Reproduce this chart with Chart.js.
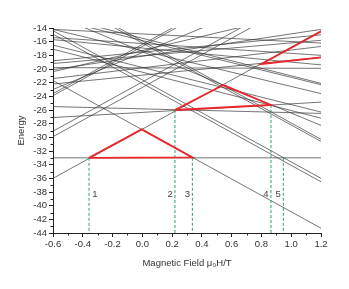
<!DOCTYPE html>
<html>
<head>
<meta charset="utf-8">
<script src="https://cdn.jsdelivr.net/npm/chart.js@4/dist/chart.umd.min.js"></script>
<style>
  html, body { margin: 0; padding: 0; background: #fff; }
</style>
</head>
<body>
<canvas id="myChart" width="349" height="289"></canvas>
<script>
// field range of the plot (T)
const fieldRange = [-0.6, 1.2];

// energy of each level at the left edge and at the right edge
const levelStart = [-36.0, -21.7, -14.4, -29.1, -14.9, -29.9, -8.7, -9.0, -23.6, -23.9,
                    -12.05, -23.0, -25.5, -27.1, -22.2, -19.8, -33.0, -12.2, -12.6, -14.2,
                    -20.4, -16.5, -17.1, -18.8, -19.2, -21.4, -20.1, -14.2, -15.4, -15.7];
const levelEnd   = [-14.4, -43.3, -36.0, -7.5, -36.5, -8.3, -30.3, -30.6, -2.0, -2.3,
                    -28.25, -6.8, -26.5, -24.85, -18.3, -19.9, -33.0, -22.1, -22.3, -23.6,
                    -11.1, -26.3, -27.2, -15.0, -15.8, -16.7, -14.2, -16.2, -18.0, -19.4];

// red transition paths
const red1X = [-0.358, -0.004, 0.336, -0.358];
const red1Y = [-33.0, -28.83, -32.94, -33.0];
const red2X = [0.219, 0.544, 0.864, 0.219];
const red2Y = [-26.0, -22.35, -25.27, -26.0];
const red3X = [1.2, 0.8, 1.2];
const red3Y = [-14.5, -19.27, -18.3];

// green dashed markers
const markX   = [-0.358, 0.219, 0.336, 0.864, 0.947];
const markTop = [-33.0, -26.0, -33.0, -25.27, -33.0];
const markNames = ['1', '2', '3', '4', '5'];
const markLabelX = [-0.318, 0.186, 0.302, 0.83, 0.912];
const markLabelY = -38.3;

// ticks
const xTicks = [-0.6, -0.4, -0.2, 0.0, 0.2, 0.4, 0.6, 0.8, 1.0, 1.2];
const xMinor = [-0.5, -0.3, -0.1, 0.1, 0.3, 0.5, 0.7, 0.9, 1.1];
const yTicks = [-44, -42, -40, -38, -36, -34, -32, -30, -28, -26, -24, -22, -20, -18, -16, -14];
const yMinor = [-43, -41, -39, -37, -35, -33, -31, -29, -27, -25, -23, -21, -19, -17, -15];

const pts = (xs, ys) => xs.map((v, i) => ({ x: v, y: ys[i] }));

const datasets = [];
[[red1X, red1Y], [red2X, red2Y], [red3X, red3Y]].forEach(p => {
  datasets.push({
    data: pts(p[0], p[1]),
    borderColor: '#e8262b', borderWidth: 1.8, pointRadius: 0, order: 0
  });
});
markX.forEach((v, i) => {
  datasets.push({
    data: [{ x: v, y: markTop[i] }, { x: v, y: -44 }],
    borderColor: '#2ca25f', borderWidth: 1, borderDash: [3, 2], pointRadius: 0, order: 1
  });
});
levelStart.forEach((e, i) => {
  datasets.push({
    data: [{ x: fieldRange[0], y: e }, { x: fieldRange[1], y: levelEnd[i] }],
    borderColor: 'rgba(50,50,50,0.85)', borderWidth: 0.8, pointRadius: 0, order: 2
  });
});

const extras = {
  id: 'extras',
  afterDraw(chart) {
    const { ctx, scales: { x, y }, chartArea } = chart;
    ctx.save();
    ctx.strokeStyle = '#222';
    ctx.lineWidth = 1;
    ctx.beginPath();
    xMinor.forEach(v => {
      const px = Math.round(x.getPixelForValue(v)) + 0.5;
      ctx.moveTo(px, chartArea.bottom);
      ctx.lineTo(px, chartArea.bottom + 2.5);
    });
    yMinor.forEach(v => {
      const py = Math.round(y.getPixelForValue(v)) + 0.5;
      ctx.moveTo(chartArea.left, py);
      ctx.lineTo(chartArea.left - 2.5, py);
    });
    ctx.stroke();
    ctx.fillStyle = '#444';
    ctx.font = '9.5px "Liberation Sans", Arial, sans-serif';
    ctx.textAlign = 'center';
    ctx.textBaseline = 'middle';
    markNames.forEach((t, i) => {
      ctx.fillText(t, x.getPixelForValue(markLabelX[i]), y.getPixelForValue(markLabelY));
    });
    ctx.restore();
  }
};

const tickFont = { family: '"Liberation Sans", Arial, sans-serif', size: 9.5 };

const config = {
  type: 'line',
  data: { datasets: datasets },
  options: {
    responsive: false,
    animation: false,
    layout: { padding: { top: 28, right: 28, left: 16, bottom: 20 } },
    plugins: { legend: { display: false }, tooltip: { enabled: false } },
    scales: {
      x: {
        type: 'linear',
        min: -0.6, max: 1.2,
        afterBuildTicks: s => { s.ticks = xTicks.map(v => ({ value: v })); },
        afterFit: s => { s.height = 36; },
        ticks: { color: '#333', font: tickFont, padding: 2, maxRotation: 0, autoSkip: false,
                 callback: v => v.toFixed(1) },
        grid: { drawOnChartArea: false, tickLength: 4, tickColor: '#222' },
        border: { color: '#222', width: 1 },
        title: { display: true, text: 'Magnetic Field μ₀H/T', color: '#333',
                 font: tickFont, padding: { top: 0, bottom: 0 } }
      },
      y: {
        type: 'linear',
        min: -44, max: -14,
        afterBuildTicks: s => { s.ticks = yTicks.map(v => ({ value: v })); },
        afterFit: s => { s.width = 37; },
        ticks: { color: '#333', font: tickFont, padding: 2, autoSkip: false },
        grid: { drawOnChartArea: false, tickLength: 4, tickColor: '#222' },
        border: { color: '#222', width: 1 },
        title: { display: true, text: 'Energy', color: '#333', font: tickFont, padding: { top: 0, bottom: 0 } }
      }
    }
  },
  plugins: [extras]
};

const myChart = new Chart(document.getElementById('myChart'), config);
</script>
</body>
</html>
